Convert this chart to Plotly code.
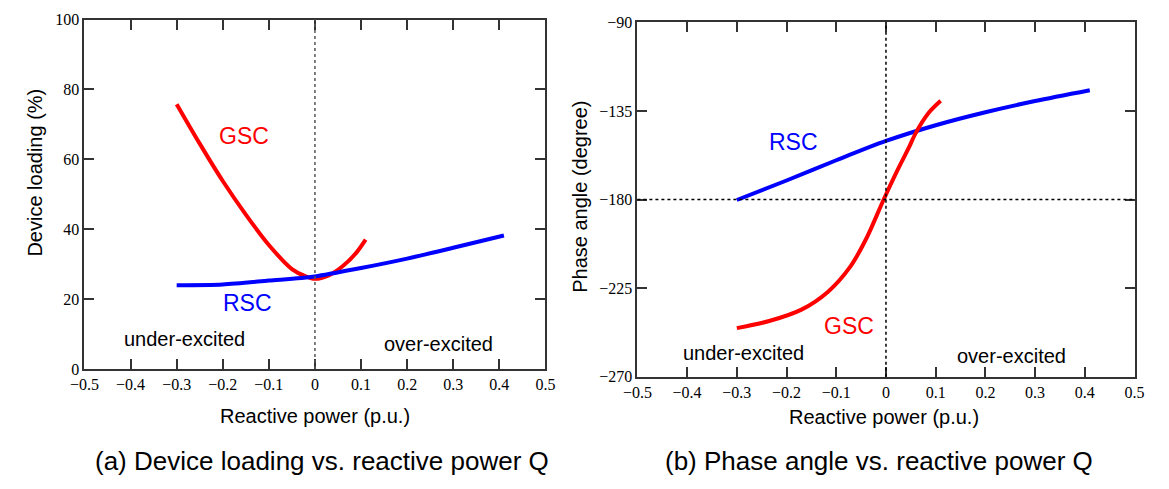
import plotly.graph_objects as go

# ---------------- data ----------------
# (a) Device loading vs reactive power
q_gsc_a = [-0.3, -0.25, -0.2, -0.15, -0.1, -0.05, -0.02, 0.0, 0.03, 0.06, 0.09, 0.11]
load_gsc = [75.8, 64.5, 53.8, 44.2, 35.5, 28.6, 26.5, 25.8, 26.8, 29.4, 33.3, 37.0]
q_rsc_a = [-0.3, -0.2, -0.1, 0.0, 0.1, 0.2, 0.3, 0.41]
load_rsc = [24.0, 24.2, 25.3, 26.5, 28.9, 31.6, 34.7, 38.2]

# (b) Phase angle vs reactive power
q_rsc_b = [-0.3, -0.2, -0.1, 0.0, 0.1, 0.2, 0.3, 0.41]
phase_rsc = [-180.2, -170.3, -160.0, -150.2, -142.2, -135.6, -129.9, -124.4]
q_gsc_b = [-0.3, -0.235, -0.17, -0.117, -0.071, -0.038, -0.005, 0.021, 0.047, 0.059, 0.086, 0.11]
phase_gsc = [-245.3, -241.7, -235.9, -226.9, -213.8, -199.0, -180.2, -166.2, -153.1, -146.6, -135.9, -129.8]

x_ticks = [-0.5, -0.4, -0.3, -0.2, -0.1, 0, 0.1, 0.2, 0.3, 0.4, 0.5]
load_ticks = [0, 20, 40, 60, 80, 100]
phase_ticks = [-270, -225, -180, -135, -90]

RED = "#ff0000"
BLUE = "#0000ff"
AX = "#333333"
SERIF = "Liberation Serif, Times New Roman, serif"
SANS = "Liberation Sans, Arial, sans-serif"

fig = go.Figure()
fig.add_trace(go.Scatter(x=q_gsc_a, y=load_gsc, mode="lines", line=dict(color=RED, width=4, shape="spline", smoothing=0.8),
                         xaxis="x", yaxis="y", showlegend=False))
fig.add_trace(go.Scatter(x=q_rsc_a, y=load_rsc, mode="lines", line=dict(color=BLUE, width=4, shape="spline", smoothing=0.8),
                         xaxis="x", yaxis="y", showlegend=False))
fig.add_trace(go.Scatter(x=q_rsc_b, y=phase_rsc, mode="lines", line=dict(color=BLUE, width=4, shape="spline", smoothing=0.8),
                         xaxis="x2", yaxis="y2", showlegend=False))
fig.add_trace(go.Scatter(x=q_gsc_b, y=phase_gsc, mode="lines", line=dict(color=RED, width=4, shape="spline", smoothing=0.8),
                         xaxis="x2", yaxis="y2", showlegend=False))

W, H = 1169, 489
def px(v):
    return v / W
def py(v):
    return 1 - v / H

tickfont = dict(family=SERIF, size=16, color="#000000")
tick_style = dict(ticks="inside", ticklen=10, tickwidth=1.5, tickcolor=AX, showline=True,
                  linecolor=AX, linewidth=2, mirror="ticks", showgrid=False, zeroline=False,
                  tickfont=tickfont)

fig.update_layout(
    width=W, height=H,
    margin=dict(l=0, r=0, t=0, b=0),
    paper_bgcolor="white", plot_bgcolor="white",
    xaxis=dict(domain=[px(71), px(542)], anchor="y", range=[-0.5, 0.5], tickvals=x_ticks, **tick_style),
    yaxis=dict(domain=[py(374), py(12)], anchor="x", range=[0, 100], tickvals=load_ticks, **tick_style),
    xaxis2=dict(domain=[px(636), px(1144)], anchor="y2", range=[-0.5, 0.5], tickvals=x_ticks, **tick_style),
    yaxis2=dict(domain=[py(382), py(15)], anchor="x2", range=[-270, -90], tickvals=phase_ticks, **tick_style),
)

# reference lines
fig.add_shape(type="line", xref="x", yref="y domain", x0=0, x1=0, y0=0, y1=1,
              line=dict(color="#555555", width=1.5, dash="dot"))
fig.add_shape(type="line", xref="x2", yref="y2 domain", x0=0, x1=0, y0=0, y1=1,
              line=dict(color="#000000", width=1.5, dash="dot"))
fig.add_shape(type="line", xref="x2 domain", yref="y2", x0=0, x1=1, y0=-180, y1=-180,
              line=dict(color="#000000", width=1.5, dash="dot"))

def note(text, x, y, xref, yref, size, color="#000000", **kw):
    fig.add_annotation(text=text, x=x, y=y, xref=xref, yref=yref, showarrow=False,
                       xanchor="center", yanchor="middle",
                       font=dict(family=SANS, size=size, color=color), **kw)

# panel (a) labels
note("GSC", -0.155, 66.6, "x", "y", 23, RED)
note("RSC", -0.146, 18.8, "x", "y", 23, BLUE)
note("under-excited", -0.282, 8.6, "x", "y", 20)
note("over-excited", 0.267, 7.2, "x", "y", 20)
# panel (b) labels
note("RSC", -0.186, -150.5, "x2", "y2", 23, BLUE)
note("GSC", -0.074, -244.0, "x2", "y2", 23, RED)
note("under-excited", -0.287, -258.2, "x2", "y2", 20)
note("over-excited", 0.253, -259.7, "x2", "y2", 20)

# axis titles
note("Reactive power (p.u.)", px(307), py(423), "paper", "paper", 20)
note("Reactive power (p.u.)", px(888), py(424), "paper", "paper", 20)
note("Device loading (%)", px(21), py(171), "paper", "paper", 20, textangle=-90)
note("Phase angle (degree)", px(578), py(196), "paper", "paper", 20, textangle=-90)

# captions
note("(a) Device loading vs. reactive power Q", px(314), py(469), "paper", "paper", 26)
note("(b) Phase angle vs. reactive power Q", px(883), py(469), "paper", "paper", 26)

fig.write_html("out.html")
